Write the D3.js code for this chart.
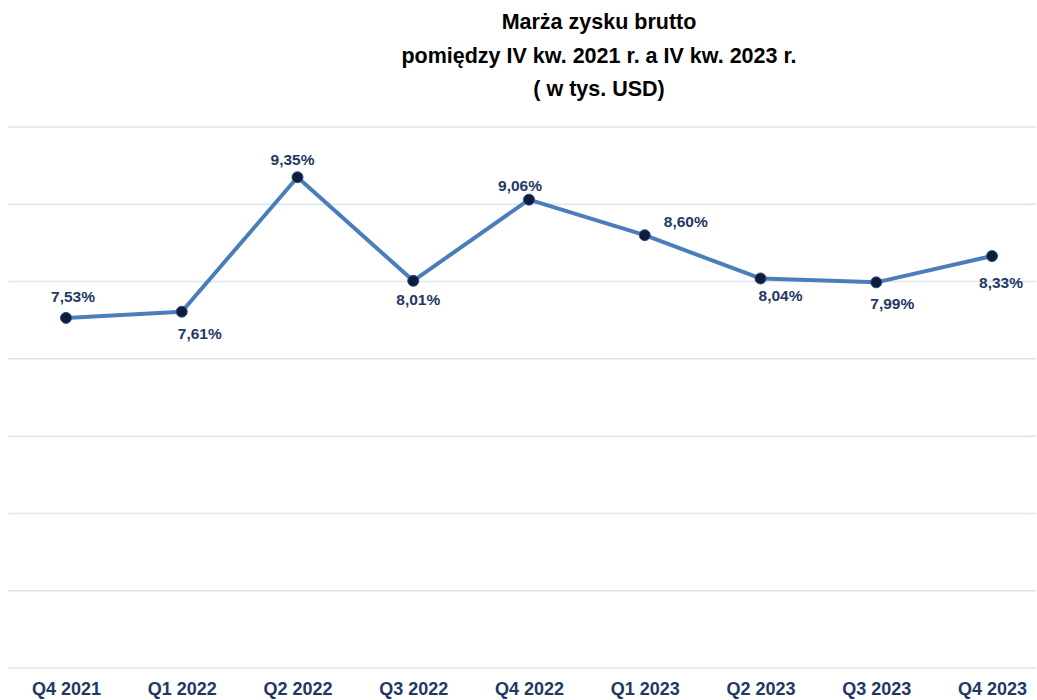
<!DOCTYPE html>
<html>
<head>
<meta charset="utf-8">
<script src="https://cdn.jsdelivr.net/npm/d3@7"></script>
<style>
  body { margin: 0; background: #ffffff; }
</style>
</head>
<body>
<div id="chart"></div>
<script>
const quarters = ["Q4 2021", "Q1 2022", "Q2 2022", "Q3 2022", "Q4 2022", "Q1 2023", "Q2 2023", "Q3 2023", "Q4 2023"];
const margins = [7.53, 7.61, 9.35, 8.01, 9.06, 8.60, 8.04, 7.99, 8.33];
const yTicks = [3, 4, 5, 6, 7, 8, 9, 10];
const titleLines = ["Marża zysku brutto", "pomiędzy IV kw. 2021 r. a IV kw. 2023 r.", "( w tys. USD)"];

// where each data label sits relative to its point
const labelOffsets = [[7, -16], [18, 27], [-5, -12], [5, 24], [-9, -9], [41, -8], [20, 23], [16, 27], [9, 32]];

const width = 1037, height = 700;

const svg = d3.select("#chart")
  .append("svg")
  .attr("width", width)
  .attr("height", height);

const x = d3.scalePoint()
  .domain(quarters)
  .range([66, 992]);

const y = d3.scaleLinear()
  .domain([3, 10])
  .range([668, 127]);

// Title
svg.append("g")
  .selectAll("text")
  .data(titleLines)
  .enter()
  .append("text")
  .attr("x", 599)
  .attr("y", (d, i) => 29 + i * 33.5)
  .attr("text-anchor", "middle")
  .style("font-family", "'Liberation Sans', Arial, sans-serif")
  .style("font-size", "21.5px")
  .style("font-weight", "bold")
  .style("fill", "#000000")
  .text(d => d);

// Gridlines
svg.append("g")
  .selectAll("line")
  .data(yTicks)
  .enter()
  .append("line")
  .attr("x1", 8)
  .attr("x2", 1036)
  .attr("y1", d => y(d))
  .attr("y2", d => y(d))
  .attr("stroke", "#dce4f0")
  .attr("stroke-width", 1.5);

// X axis
const xAxis = svg.append("g")
  .attr("transform", "translate(0,668)")
  .call(d3.axisBottom(x).tickSize(0).tickPadding(14));
xAxis.select(".domain").remove();
xAxis.selectAll("text")
  .style("font-family", "'Liberation Sans', Arial, sans-serif")
  .style("font-size", "18px")
  .style("font-weight", "bold")
  .style("fill", "#1f3864");

const data = quarters.map((q, i) => ({q, v: margins[i], off: labelOffsets[i]}));

// Line
svg.append("path")
  .datum(data)
  .attr("fill", "none")
  .attr("stroke", "#4a7ebb")
  .attr("stroke-width", 4)
  .attr("stroke-linejoin", "round")
  .attr("d", d3.line()
    .x(d => x(d.q))
    .y(d => y(d.v)));

// Points
svg.selectAll("circle")
  .data(data)
  .enter()
  .append("circle")
  .attr("cx", d => x(d.q))
  .attr("cy", d => y(d.v))
  .attr("r", 5.5)
  .attr("fill", "#0e1d3a")
  .attr("stroke", "#2c4f85")
  .attr("stroke-width", 1);

// Data labels
svg.selectAll(".label")
  .data(data)
  .enter()
  .append("text")
  .attr("class", "label")
  .attr("x", d => x(d.q) + d.off[0])
  .attr("y", d => y(d.v) + d.off[1])
  .attr("text-anchor", "middle")
  .style("font-family", "'Liberation Sans', Arial, sans-serif")
  .style("font-size", "15.5px")
  .style("font-weight", "bold")
  .style("fill", "#1f3864")
  .text(d => d.v.toFixed(2).replace(".", ",") + "%");
</script>
</body>
</html>
